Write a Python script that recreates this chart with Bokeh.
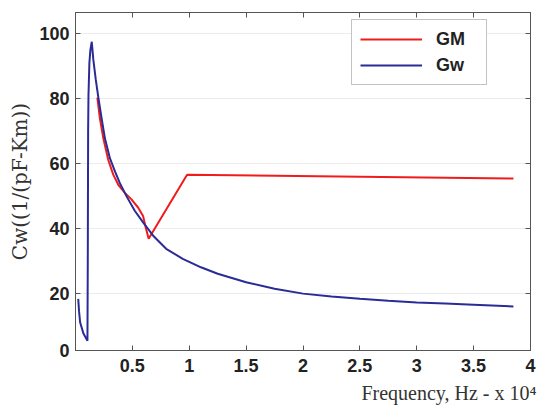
from bokeh.plotting import figure
from bokeh.models import (Range1d, LinearAxis, FixedTicker, Legend, LegendItem,
                          Title)
from bokeh.embed import file_html
from bokeh.resources import INLINE

# ---- data ----
gw_x = [0.024, 0.031, 0.041, 0.07, 0.105, 0.108, 0.111, 0.114, 0.122, 0.131,
        0.143, 0.157, 0.178, 0.201, 0.23, 0.259, 0.303, 0.347, 0.39, 0.448,
        0.521, 0.594, 0.681, 0.797, 0.943, 1.103, 1.25, 1.5, 1.75, 2.0,
        2.25, 2.5, 2.75, 3.0, 3.25, 3.5, 3.85]
gw_y = [18.3, 14.5, 11.0, 7.6, 5.4, 30.0, 70.0, 80.7, 90.8, 94.9,
        97.4, 91.8, 85.8, 80.2, 73.7, 67.6, 61.5, 57.5, 53.9, 49.9,
        45.4, 41.8, 37.8, 33.7, 30.6, 28.0, 26.0, 23.4, 21.4, 19.9,
        19.0, 18.3, 17.7, 17.2, 16.85, 16.5, 15.95]

gm_x = [0.192, 0.215, 0.245, 0.288, 0.332, 0.376, 0.434, 0.492, 0.55, 0.594,
        0.617, 0.643, 0.981, 3.85]
gm_y = [80.2, 73.7, 67.6, 61.0, 56.5, 53.4, 50.9, 48.9, 46.4, 43.8,
        40.3, 36.8, 56.5, 55.3]

y_min = 2.4
x_ticks = [0.5, 1, 1.5, 2, 2.5, 3, 3.5, 4]
y_ticks = [20, 40, 60, 80, 100]
series_names = ["GM", "Gw"]
x_label = "Frequency, Hz - x 10\u2074"
y_label = "Cw((1/(pF-Km))"

RED = "#f01c1c"
BLUE = "#2b2b98"
AX = "#555555"
TXT = "#222222"

p = figure(width=539, height=408, output_backend="svg", toolbar_location=None,
           x_range=Range1d(0.0, 4.0), y_range=Range1d(y_min, 106.4),
           min_border_left=72, min_border_right=9, min_border_top=12,
           min_border_bottom=53, background_fill_color="white",
           border_fill_color="white")

p.xgrid.visible = False
p.ygrid.grid_line_color = "#ececec"
p.ygrid.ticker = FixedTicker(ticks=y_ticks)
p.outline_line_color = AX

def style(ax, ticks, labels=True, standoff=6):
    ax.ticker = FixedTicker(ticks=ticks)
    ax.minor_tick_line_color = None
    ax.major_tick_in = 5
    ax.major_tick_out = 0
    ax.axis_line_color = AX
    ax.major_tick_line_color = AX
    ax.major_label_standoff = standoff
    if labels:
        ax.major_label_text_font = "Liberation Sans"
        ax.major_label_text_font_style = "bold"
        ax.major_label_text_font_size = "18px"
        ax.major_label_text_color = TXT
    else:
        ax.major_label_text_font_size = "0px"
        ax.major_label_text_color = None

style(p.xaxis[0], x_ticks, standoff=8)
style(p.yaxis[0], [y_min] + y_ticks, standoff=6)
p.yaxis[0].major_label_overrides = {y_min: "0"}
p.xaxis[0].major_label_overrides = {4: "4"}

top_ax = LinearAxis()
right_ax = LinearAxis()
style(top_ax, x_ticks, labels=False)
style(right_ax, y_ticks, labels=False)
p.add_layout(top_ax, "above")
p.add_layout(right_ax, "right")

r_gm = p.line(gm_x, gm_y, line_color=RED, line_width=2)
r_gw = p.line(gw_x, gw_y, line_color=BLUE, line_width=2)

legend = Legend(items=[LegendItem(label=series_names[0], renderers=[r_gm]),
                       LegendItem(label=series_names[1], renderers=[r_gw])],
                location=(276, 265), padding=8, spacing=4, margin=0,
                glyph_width=62, glyph_height=22, label_height=22,
                label_width=42, label_standoff=14,
                label_text_font="Liberation Sans", label_text_font_style="bold",
                label_text_font_size="18px", label_text_color=TXT,
                border_line_color="#888888", background_fill_color="white",
                background_fill_alpha=1.0)
p.add_layout(legend, "center")

p.add_layout(Title(text=y_label, align="center", text_font="DejaVu Serif",
                   text_font_style="normal", text_font_size="20px",
                   text_color="#333333", offset=-4), "left")
p.add_layout(Title(text=x_label, align="right", text_font="Liberation Serif",
                   text_font_style="normal", text_font_size="20px",
                   text_color="#333333", offset=-6), "below")

open("out.html", "w").write(file_html(p, INLINE))
